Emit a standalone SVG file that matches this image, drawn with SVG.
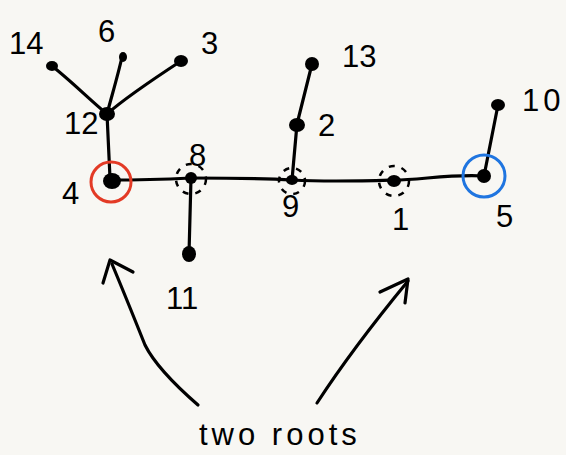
<svg xmlns="http://www.w3.org/2000/svg" width="566" height="455" viewBox="0 0 566 455">
  <style>
    .edge { fill: none; stroke: #000; stroke-width: 3.2; stroke-linecap: round; stroke-linejoin: round; }
    .dot { fill: #000; }
    .ring { fill: none; stroke: #000; stroke-width: 2.5; stroke-dasharray: 6 7; }
    .lbl { font-family: "Liberation Sans", Arial, sans-serif; font-size: 31px; fill: #000; }
    .arrow { fill: none; stroke: #000; stroke-width: 3.2; stroke-linecap: round; stroke-linejoin: round; }
  </style>
  <rect width="566" height="455" fill="#f8f7f3"/>

  <g id="connectors">
    <path class="edge" d="M52,66 C70,80 90,100 107,114"/>
    <path class="edge" d="M122,57 C118,75 112,95 107,114"/>
    <path class="edge" d="M181,61 C155,78 125,98 107,114"/>
    <path class="edge" d="M107,114 L110,178"/>
    <path class="edge" d="M110,180 C140,180 170,179 191,178"/>
    <path class="edge" d="M191,178 L189,254"/>
    <path class="edge" d="M191,178 C230,178 260,178 292,180"/>
    <path class="edge" d="M292,180 L297,124 L312,64"/>
    <path class="edge" d="M292,180 C330,182 360,181 394,180"/>
    <path class="edge" d="M394,180 C420,180 450,174 484,176"/>
    <path class="edge" d="M484,176 L498,105"/>
  </g>

  <g id="n14"><ellipse class="dot" cx="52" cy="66" rx="6" ry="5"/><text class="lbl" x="9" y="54">14</text></g>
  <g id="n6"><ellipse class="dot" cx="123" cy="57" rx="4" ry="5"/><text class="lbl" x="98" y="42">6</text></g>
  <g id="n3"><ellipse class="dot" cx="181" cy="61" rx="7" ry="6"/><text class="lbl" x="201" y="54">3</text></g>
  <g id="n12"><ellipse class="dot" cx="107" cy="114" rx="8" ry="7"/><text class="lbl" x="64" y="134">12</text></g>
  <g id="n4">
    <ellipse class="dot" cx="112" cy="181" rx="9" ry="8"/>
    <circle cx="111" cy="182" r="20" fill="none" stroke="#e33a25" stroke-width="3"/>
    <text class="lbl" x="62" y="204">4</text>
  </g>
  <g id="n8">
    <ellipse class="dot" cx="191" cy="178" rx="6" ry="6"/>
    <circle class="ring" cx="191" cy="179" r="15"/>
    <text class="lbl" x="189" y="166" font-size="24">8</text>
  </g>
  <g id="n11"><ellipse class="dot" cx="189" cy="254" rx="7" ry="8"/><text class="lbl" x="166" y="309">11</text></g>
  <g id="n9">
    <ellipse class="dot" cx="292" cy="180" rx="6" ry="5"/>
    <circle class="ring" cx="292" cy="181" r="13"/>
    <text class="lbl" x="282" y="217">9</text>
  </g>
  <g id="n2"><ellipse class="dot" cx="297" cy="125" rx="8" ry="7"/><text class="lbl" x="318" y="136">2</text></g>
  <g id="n13"><ellipse class="dot" cx="312" cy="64" rx="7" ry="7"/><text class="lbl" x="342" y="67">13</text></g>
  <g id="n1">
    <ellipse class="dot" cx="394" cy="181" rx="7" ry="6"/>
    <circle class="ring" cx="394" cy="181" r="15"/>
    <text class="lbl" x="392" y="230">1</text>
  </g>
  <g id="n5">
    <ellipse class="dot" cx="484" cy="176" rx="7" ry="7"/>
    <circle cx="484" cy="176" r="21" fill="none" stroke="#1f75e0" stroke-width="3"/>
    <text class="lbl" x="496" y="227">5</text>
  </g>
  <g id="n10"><ellipse class="dot" cx="498" cy="105" rx="7" ry="6"/><text class="lbl" x="522" y="111" letter-spacing="4">10</text></g>

  <g id="annotation">
    <path class="arrow" d="M198,405 C175,385 155,365 145,345 C135,320 125,295 112,264"/>
    <path class="arrow" d="M103,283 L110,260 L133,272"/>
    <path class="arrow" d="M317,403 C345,360 380,315 408,281"/>
    <path class="arrow" d="M380,292 L408,279 L405,303"/>
    <text class="lbl" x="199" y="445" font-size="35" letter-spacing="4">two roots</text>
  </g>
</svg>
